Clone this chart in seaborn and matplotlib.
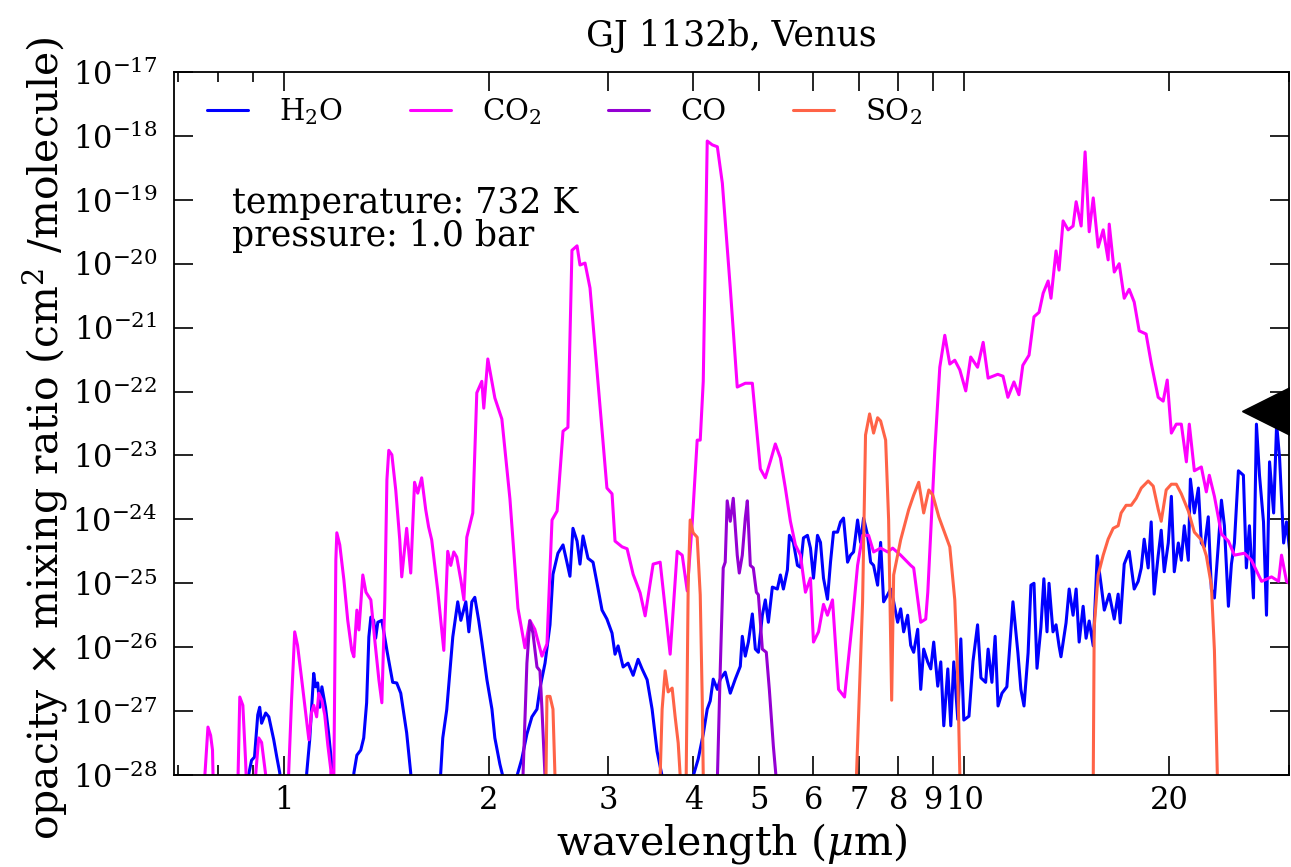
import numpy as np
import pandas as pd
import matplotlib
matplotlib.use("Agg")
import matplotlib.pyplot as plt
import seaborn as sns
from matplotlib.ticker import FixedLocator, FixedFormatter, NullFormatter, NullLocator

# ---------------- data: (wavelength in micron, log10 of opacity x mixing ratio) -------------
# values of -29 lie below the plotted range (curve leaves through the bottom axis)
h2o = [(0.877, -29), (0.888, -28.00), (0.897, -27.77), (0.906, -27.72), (0.916, -27.06), (0.922, -26.94),
       (0.928, -27.19), (0.941, -27.03), (0.951, -27.09), (0.967, -27.45), (0.977, -27.72), (0.987, -27.97),
       (0.993, -29),
       (1.074, -29), (1.081, -27.97), (1.092, -27.45), (1.107, -26.41), (1.114, -26.62), (1.122, -26.56),
       (1.130, -26.94), (1.138, -26.62), (1.152, -26.94), (1.164, -27.34), (1.180, -27.97), (1.188, -29),
       (1.259, -29), (1.268, -27.97), (1.281, -27.69), (1.298, -27.61), (1.311, -27.42), (1.324, -26.87),
       (1.334, -25.84), (1.343, -25.53), (1.356, -25.58), (1.365, -25.86), (1.375, -25.61), (1.394, -25.58),
       (1.418, -26.05), (1.446, -26.55), (1.466, -26.56), (1.486, -26.72), (1.516, -27.34), (1.537, -27.97),
       (1.547, -29),
       (1.690, -29), (1.701, -27.97), (1.713, -27.42), (1.736, -26.98), (1.754, -26.41), (1.772, -25.84),
       (1.802, -25.29), (1.821, -25.58), (1.852, -25.29), (1.871, -25.76), (1.890, -25.29), (1.909, -25.22),
       (1.935, -25.59), (1.955, -25.92), (1.989, -26.51), (2.023, -26.97), (2.043, -27.42), (2.078, -27.83),
       (2.099, -28.02), (2.120, -29),
       (2.187, -29), (2.201, -28.02), (2.238, -27.75), (2.277, -27.36), (2.316, -27.09), (2.356, -26.97),
       (2.380, -26.64), (2.421, -26.25), (2.462, -25.65), (2.487, -24.86), (2.529, -24.53), (2.573, -24.40),
       (2.607, -24.67), (2.634, -24.89), (2.661, -24.14), (2.698, -24.34), (2.725, -24.70), (2.753, -24.26),
       (2.800, -24.61), (2.848, -24.67), (2.887, -25.00), (2.936, -25.42), (2.985, -25.56), (3.037, -25.78),
       (3.068, -26.11), (3.100, -25.98), (3.153, -26.31), (3.206, -26.25), (3.262, -26.44), (3.317, -26.19),
       (3.362, -26.34), (3.420, -26.51), (3.478, -26.97), (3.537, -27.63), (3.598, -28.02), (3.635, -29),
       (3.956, -29), (3.996, -28.02), (4.065, -27.75), (4.135, -27.36), (4.191, -26.97), (4.234, -26.84),
       (4.277, -26.50), (4.337, -26.66), (4.380, -26.50), (4.454, -26.39), (4.531, -26.72), (4.608, -26.50),
       (4.687, -26.30), (4.719, -25.83), (4.767, -26.14), (4.817, -25.92), (4.882, -25.48), (4.932, -26.03),
       (4.983, -26.08), (5.050, -25.50), (5.101, -25.26), (5.154, -25.61), (5.224, -25.06), (5.313, -25.09),
       (5.368, -24.87), (5.423, -25.09), (5.497, -24.79), (5.534, -24.25), (5.610, -24.36), (5.687, -24.72),
       (5.745, -24.75), (5.804, -24.29), (5.883, -24.25), (5.943, -24.45), (6.004, -24.92), (6.086, -24.25),
       (6.148, -24.36), (6.211, -24.92), (6.295, -25.25), (6.360, -24.67), (6.425, -24.20), (6.513, -24.20),
       (6.579, -24.04), (6.646, -23.98), (6.738, -24.67), (6.806, -24.56), (6.876, -24.51), (6.970, -24.01),
       (7.041, -24.36), (7.113, -23.98), (7.210, -24.25), (7.284, -24.67), (7.358, -24.72), (7.459, -25.03),
       (7.535, -24.36), (7.612, -25.29), (7.716, -25.18), (7.795, -25.09), (7.875, -25.29), (7.982, -25.61),
       (8.064, -25.40), (8.146, -25.76), (8.257, -25.50), (8.342, -25.97), (8.427, -26.08), (8.542, -25.72),
       (8.630, -26.66), (8.717, -26.03), (8.836, -26.23), (8.928, -26.34), (9.018, -25.92), (9.142, -26.61),
       (9.236, -26.23), (9.330, -27.23), (9.458, -26.34), (9.554, -27.23), (9.651, -26.23), (9.783, -27.13),
       (9.884, -25.87), (9.985, -27.14), (10.16, -27.08), (10.30, -26.22), (10.46, -25.65), (10.58, -26.48),
       (10.75, -26.55), (10.84, -26.03), (10.98, -26.55), (11.10, -25.83), (11.21, -26.92), (11.36, -26.72),
       (11.55, -26.62), (11.79, -25.29), (11.99, -26.09), (12.11, -26.66), (12.24, -26.92), (12.41, -26.09),
       (12.53, -25.03), (12.66, -25.00), (12.79, -26.33), (12.96, -25.69), (13.09, -24.93), (13.23, -25.76),
       (13.32, -25.00), (13.50, -25.76), (13.64, -25.65), (13.78, -25.98), (13.87, -26.15), (14.11, -25.62),
       (14.26, -25.09), (14.45, -25.50), (14.60, -25.09), (14.75, -25.92), (14.95, -25.36), (15.10, -25.86),
       (15.26, -25.59), (15.47, -25.98), (15.68, -24.57), (15.89, -25.03), (16.06, -25.42), (16.33, -25.17),
       (16.61, -25.56), (16.83, -25.17), (16.95, -25.62), (17.18, -24.70), (17.47, -24.50), (17.77, -25.09),
       (18.01, -24.97), (18.20, -24.76), (18.38, -24.31), (18.63, -24.76), (18.82, -24.04), (19.01, -25.17),
       (19.27, -24.57), (19.47, -24.17), (19.67, -24.82), (19.94, -24.37), (20.15, -23.64), (20.35, -24.82),
       (20.63, -24.37), (20.84, -24.64), (21.05, -24.10), (21.34, -24.64), (21.49, -23.37), (21.78, -23.90),
       (22.08, -23.51), (22.30, -24.37), (22.53, -24.43), (22.83, -23.96), (23.07, -25.09), (23.31, -25.23),
       (23.63, -24.37), (23.87, -23.70), (24.11, -24.10), (24.44, -25.36), (24.69, -24.70), (24.94, -24.37),
       (25.28, -23.24), (25.71, -23.31), (25.97, -24.76), (26.24, -24.10), (26.60, -25.23), (26.87, -22.51),
       (27.15, -23.31), (27.52, -24.04), (27.80, -25.50), (28.09, -23.10), (28.48, -23.90), (28.77, -22.51),
       (29.06, -23.04), (29.46, -24.37), (29.75, -24.04), (30.26, -24.76)]

co2 = [(0.753, -29), (0.766, -28.00), (0.774, -27.25), (0.781, -27.38), (0.786, -27.61), (0.791, -29),
       (0.853, -29), (0.862, -26.78), (0.871, -26.91), (0.879, -27.77), (0.888, -29),
       (0.903, -29), (0.910, -27.97), (0.919, -27.42), (0.928, -27.49), (0.941, -28.00), (0.951, -29),
       (1.007, -29), (1.017, -27.97), (1.027, -26.83), (1.038, -25.76), (1.048, -25.97), (1.063, -26.51),
       (1.078, -27.06), (1.089, -27.45), (1.099, -27.02), (1.107, -26.91), (1.118, -27.09), (1.126, -26.72),
       (1.138, -26.83), (1.149, -27.06), (1.161, -27.53), (1.173, -27.92), (1.177, -29),
       (1.185, -28.00), (1.193, -24.64), (1.197, -24.21), (1.209, -24.40), (1.226, -24.95), (1.242, -25.58),
       (1.259, -26.05), (1.268, -26.15), (1.281, -25.42), (1.290, -25.73), (1.307, -24.87), (1.321, -25.14),
       (1.343, -25.26), (1.361, -25.89), (1.380, -26.51), (1.394, -26.87), (1.408, -25.26), (1.418, -23.38),
       (1.427, -22.92), (1.442, -22.99), (1.461, -23.54), (1.481, -24.32), (1.491, -24.90), (1.516, -24.14),
       (1.537, -24.84), (1.557, -23.42), (1.574, -23.59), (1.595, -23.35), (1.617, -23.85), (1.633, -24.12),
       (1.650, -24.32), (1.684, -25.11), (1.719, -26.05), (1.742, -24.50), (1.760, -24.72), (1.778, -24.51),
       (1.796, -24.59), (1.821, -24.95), (1.840, -25.26), (1.858, -24.28), (1.896, -23.90), (1.922, -22.02),
       (1.955, -21.84), (1.968, -22.26), (1.995, -21.49), (2.043, -22.10), (2.092, -22.43), (2.150, -23.68),
       (2.209, -25.39), (2.262, -26.01), (2.300, -25.58), (2.339, -25.72), (2.396, -26.14), (2.437, -25.95),
       (2.479, -24.01), (2.522, -23.87), (2.573, -22.62), (2.616, -22.56), (2.652, -19.79), (2.698, -19.72),
       (2.725, -20.02), (2.772, -19.99), (2.819, -20.38), (2.916, -22.23), (2.985, -23.51), (3.037, -23.60),
       (3.068, -24.34), (3.142, -24.43), (3.196, -24.46), (3.262, -24.86), (3.340, -25.15), (3.397, -25.51),
       (3.490, -24.70), (3.574, -24.67), (3.697, -26.11), (3.786, -24.50), (3.851, -24.56), (3.917, -25.12),
       (3.983, -24.07), (4.051, -22.76), (4.093, -22.76), (4.135, -21.84), (4.191, -18.08), (4.263, -18.14),
       (4.337, -18.17), (4.411, -18.74), (4.531, -20.38), (4.639, -21.93), (4.767, -21.87), (4.882, -21.87),
       (5.016, -23.21), (5.101, -23.35), (5.189, -23.09), (5.277, -22.82), (5.368, -23.04), (5.459, -23.51),
       (5.553, -24.03), (5.648, -24.40), (5.745, -24.56), (5.843, -25.14), (5.943, -24.92), (6.004, -25.92),
       (6.107, -25.76), (6.211, -25.33), (6.295, -25.50), (6.403, -25.26), (6.535, -26.66), (6.669, -26.78),
       (6.853, -25.56), (6.970, -24.72), (7.089, -24.25), (7.234, -24.25), (7.358, -24.51), (7.535, -24.45),
       (7.716, -24.51), (7.848, -24.45), (8.064, -24.56), (8.342, -24.72), (8.427, -24.76), (8.630, -25.61),
       (8.777, -25.56), (8.839, -25.14), (9.050, -22.93), (9.205, -21.62), (9.362, -21.12), (9.522, -21.57),
       (9.684, -21.51), (9.850, -21.66), (10.05, -21.99), (10.22, -21.46), (10.46, -21.62), (10.66, -21.23),
       (10.84, -21.79), (11.20, -21.73), (11.40, -21.76), (11.59, -22.09), (11.83, -21.85), (12.03, -22.05),
       (12.19, -21.59), (12.45, -21.43), (12.66, -20.83), (12.88, -20.76), (13.06, -20.46), (13.28, -20.27),
       (13.41, -20.54), (13.64, -19.80), (13.78, -20.10), (13.97, -19.33), (14.21, -19.47), (14.45, -19.41),
       (14.60, -19.03), (14.85, -19.41), (15.05, -18.25), (15.26, -19.50), (15.47, -18.97), (15.73, -19.74),
       (16.00, -19.47), (16.27, -19.94), (16.33, -19.38), (16.61, -20.13), (16.89, -20.00), (17.18, -20.54),
       (17.47, -20.40), (17.77, -20.60), (18.07, -21.05), (18.50, -21.10), (18.82, -21.55), (19.27, -22.09),
       (19.60, -22.15), (19.87, -21.82), (20.15, -22.65), (20.49, -22.51), (20.84, -22.51), (21.20, -23.10),
       (21.41, -22.51), (21.78, -23.24), (22.30, -23.18), (22.68, -23.57), (22.91, -23.31), (23.31, -23.64),
       (23.87, -24.23), (24.44, -24.34), (24.94, -24.56), (25.80, -24.53), (26.42, -24.64), (27.34, -24.97),
       (28.28, -24.90), (28.96, -24.97), (29.25, -24.56), (29.75, -24.97), (30.26, -25.03)]

co = [(2.224, -29), (2.247, -28.02), (2.277, -26.25), (2.300, -25.59), (2.324, -25.78), (2.356, -26.31),
      (2.380, -26.37), (2.396, -26.97), (2.421, -28.02), (2.437, -29),
      (4.292, -29), (4.337, -28.08), (4.380, -26.34), (4.424, -24.76), (4.454, -24.67), (4.484, -23.71),
      (4.531, -24.03), (4.577, -23.67), (4.639, -24.56), (4.671, -24.84), (4.719, -24.56), (4.767, -23.98),
      (4.800, -23.71), (4.849, -24.72), (4.898, -24.76), (4.949, -25.14), (4.983, -25.18), (5.050, -26.03),
      (5.118, -26.08), (5.171, -26.66), (5.242, -27.55), (5.295, -28.08), (5.331, -29)]

so2 = [(2.412, -29), (2.429, -28.02), (2.437, -26.77), (2.462, -26.77), (2.487, -26.97), (2.504, -28.02),
       (2.521, -29),
       (3.550, -29), (3.574, -28.02), (3.598, -26.97), (3.635, -26.37), (3.672, -26.70), (3.722, -26.64),
       (3.760, -27.09), (3.799, -27.50), (3.825, -28.02), (3.851, -29),
       (3.877, -29), (3.903, -28.02), (3.930, -25.00), (3.956, -24.01), (3.996, -24.21), (4.051, -24.28),
       (4.093, -25.18), (4.121, -26.83), (4.135, -28.02), (4.163, -29),
       (6.922, -29), (6.946, -27.97), (7.089, -25.29), (7.160, -22.68), (7.259, -22.35), (7.358, -22.65),
       (7.459, -22.41), (7.535, -22.46), (7.664, -22.76), (7.742, -24.01), (7.822, -26.83), (7.875, -24.87),
       (8.064, -24.32), (8.285, -23.85), (8.427, -23.62), (8.572, -23.42), (8.717, -23.90), (8.869, -23.54),
       (8.990, -23.62), (9.174, -23.96), (9.522, -24.43), (9.684, -25.26), (9.784, -26.51), (9.850, -27.97),
       (9.884, -29),
       (15.36, -29), (15.47, -28.08), (15.52, -25.69), (15.73, -24.87), (16.00, -24.56), (16.27, -24.31),
       (16.55, -24.14), (16.83, -24.10), (17.00, -23.90), (17.29, -23.78), (17.59, -23.78), (17.89, -23.67),
       (18.20, -23.51), (18.63, -23.40), (18.95, -23.48), (19.27, -23.84), (19.47, -24.03), (19.80, -23.54),
       (20.15, -23.45), (20.49, -23.45), (20.84, -23.60), (21.34, -23.87), (21.78, -24.20), (22.30, -24.32),
       (22.68, -24.57), (23.07, -25.03), (23.31, -26.05), (23.46, -27.30), (23.55, -28.08), (23.71, -29)]

marker_wl = [28.3]
marker_log = [-22.31]

species_labels = ["H$_2$O", "CO$_2$", "CO", "SO$_2$"]
species_colors = ["#0000ff", "#ff00ff", "#9400d3", "#ff6347"]
xtick_major = [1, 2, 3, 4, 5, 6, 7, 8, 9, 10, 20]
xtick_minor = [0.7, 0.8, 0.9, 30]
ytick_major = [1e-28, 1e-27, 1e-26, 1e-25, 1e-24, 1e-23, 1e-22, 1e-21, 1e-20, 1e-19, 1e-18, 1e-17]

# ---------------- style ----------------
sns.set_style("ticks")
plt.rcParams['font.family'] = ['DejaVu Serif']
plt.rcParams['mathtext.fontset'] = 'dejavuserif'
plt.rcParams['axes.edgecolor'] = 'black'
plt.rcParams['axes.linewidth'] = 1.3
plt.rcParams['text.color'] = 'black'
plt.rcParams['axes.labelcolor'] = 'black'
plt.rcParams['xtick.color'] = 'black'
plt.rcParams['ytick.color'] = 'black'

fig = plt.figure(figsize=(12.91, 8.67), dpi=100)
ax = fig.add_axes([174 / 1291, 92 / 867, 1115 / 1291, 703 / 867])


def to_frame(pairs, name):
    wl, lg = zip(*pairs)
    return pd.DataFrame({"wavelength": wl, "opacity": 10.0 ** np.array(lg), "species": name})


for pairs, lab, col in zip([h2o, co2, co, so2], species_labels, species_colors):
    sns.lineplot(data=to_frame(pairs, lab), x="wavelength", y="opacity", color=col,
                 linewidth=2.2, label=lab, ax=ax, sort=False, estimator=None)

mk = pd.DataFrame({"wavelength": marker_wl, "opacity": 10.0 ** np.array(marker_log)})
ax.plot(mk["wavelength"], mk["opacity"], marker="<", markersize=43, color="black", linestyle="none")

ax.set_xscale("log")
ax.set_yscale("log")
ax.set_xlim(0.69, 30)
ax.set_ylim(1e-28, 1e-17)

ax.xaxis.set_major_locator(FixedLocator(xtick_major))
ax.xaxis.set_major_formatter(FixedFormatter([str(v) for v in xtick_major]))
ax.xaxis.set_minor_locator(FixedLocator(xtick_minor))
ax.xaxis.set_minor_formatter(NullFormatter())
ax.yaxis.set_major_locator(FixedLocator(ytick_major))
ax.yaxis.set_minor_locator(NullLocator())

ax.tick_params(which="both", direction="in", top=True, right=True, color="black", width=1.2)
ax.tick_params(which="major", length=14)
ax.tick_params(which="minor", length=7)
ax.tick_params(axis="x", which="major", labelsize=22, pad=7)
ax.tick_params(axis="y", which="major", labelsize=22, pad=12)

ax.set_xlabel(r"wavelength ($\mu$m)", fontsize=29.7)
ax.set_ylabel(r"opacity $\times$ mixing ratio (cm$^2$ /molecule)", fontsize=29.5)
ax.xaxis.set_label_coords(0.5, -0.066)
ax.yaxis.set_label_coords(-0.092, 0.479)
ax.set_title("GJ 1132b, Venus", fontsize=25, pad=19)

ax.text(0.052, 0.838, "temperature: 732 K\npressure: 1.0 bar", transform=ax.transAxes,
        fontsize=24.9, va="top", ha="left", linespacing=0.98)

leg = ax.legend(loc="center left", bbox_to_anchor=(0.03, 0.944), ncol=4, frameon=False, fontsize=21,
                handlelength=1.4, handletextpad=1.06, columnspacing=2.3, borderaxespad=0, borderpad=0)

fig.savefig("out.png", dpi=100)
